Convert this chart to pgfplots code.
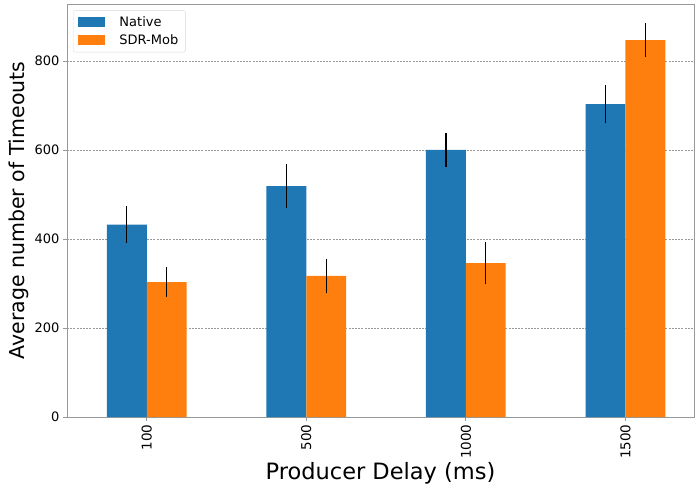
\documentclass[border=0pt]{standalone}
\usepackage{pgfplots}
\pgfplotsset{compat=1.18}
\usepackage{fontspec}
\setmainfont{DejaVu Sans}
\definecolor{tabblue}{HTML}{1F77B4}
\definecolor{taborange}{HTML}{FF7F0E}
\definecolor{spine}{HTML}{999999}
\begin{document}
\begin{tikzpicture}
\begin{axis}[
  scale only axis,
  width=627pt, height=413pt,
  xmin=-0.5, xmax=3.43,
  ymin=0, ymax=928,
  xtick={0,1,2,3},
  xticklabels={100,500,1000,1500},
  x tick label style={rotate=90, anchor=east, font=\fontsize{13.5}{16}\selectfont},
  ytick={0,200,400,600,800},
  y tick label style={font=\fontsize{13}{16}\selectfont},
  /pgf/number format/assume math mode=true,
  tick align=outside,
  tick pos=left,
  major tick length=4pt,
  tick style={spine, line width=0.8pt},
  axis line style={spine, line width=0.8pt},
  ymajorgrids,
  grid style={dash pattern=on 2pt off 1.2pt, gray!80, line width=0.5pt},
  xlabel={Producer Delay (ms)},
  ylabel={Average number of Timeouts},
  xlabel style={font=\fontsize{22.5}{26}\selectfont, yshift=3pt},
  ylabel style={font=\fontsize{20.5}{24}\selectfont, yshift=-1pt},
  legend style={at={(0.01,0.985)}, anchor=north west, draw=black!15, rounded corners=2pt, font=\fontsize{13}{16}\selectfont, row sep=3pt, inner xsep=5pt, inner ysep=4pt},
  legend cell align=left,
  legend image code/.code={\fill[#1, sharp corners] (0pt,-5pt) rectangle (27pt,5pt); \path (39pt,0pt);},
  clip=false,
]
\addplot[ybar, bar width=0.25, bar shift=0pt, fill=tabblue, draw=none,
  error bars/.cd, y dir=both, y explicit, error mark=none,
  error bar style={black, line width=1.2pt}]
  coordinates {(-0.125,432) +- (0,41) (0.875,519) +- (0,49) (1.875,600) +- (0,38) (2.875,703) +- (0,43)};
\addlegendentry{Native}
\addplot[ybar, bar width=0.25, bar shift=0pt, fill=taborange, draw=none,
  error bars/.cd, y dir=both, y explicit, error mark=none,
  error bar style={black, line width=1.2pt}]
  coordinates {(0.125,303) +- (0,33) (1.125,317) +- (0,39) (2.125,346) +- (0,48) (3.125,847) +- (0,38)};
\addlegendentry{SDR-Mob}
\draw[spine, line width=0.8pt] (rel axis cs:0,1) -- (rel axis cs:1,1) -- (rel axis cs:1,0);
\coordinate (SW) at (rel axis cs:0,0);
\end{axis}
\useasboundingbox (SW) ++(-67pt,-67pt) rectangle ++(695pt,484pt);
\end{tikzpicture}
\end{document}
